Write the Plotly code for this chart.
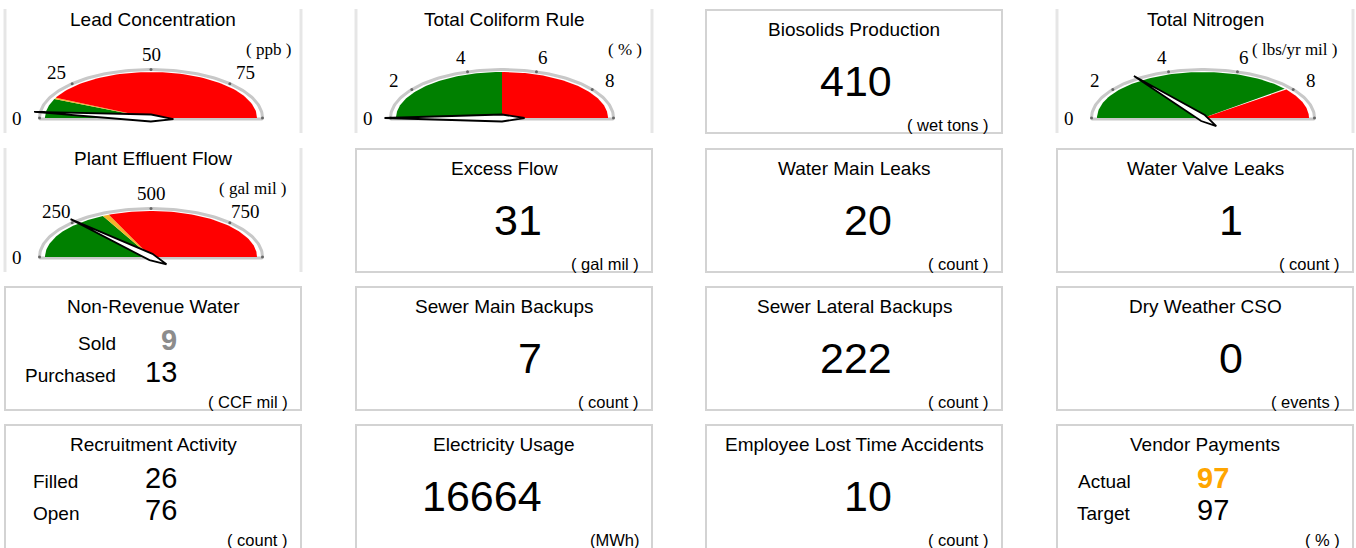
import math

import numpy as np
import plotly.graph_objects as go

# gauge panels
gauge_titles = ["Lead Concentration", "Total Coliform Rule", "Total Nitrogen", "Plant Effluent Flow"]
gauge_units = ["( ppb )", "( % )", "( lbs/yr mil )", "( gal mil )"]
gauge_max = [100, 10, 10, 1000]
gauge_ticks = [[0, 25, 50, 75], [0, 2, 4, 6, 8], [0, 2, 4, 6, 8], [0, 250, 500, 750]]
gauge_green_end = [13.5, 5, 7.8, 350]
gauge_yellow_end = [14.5, 5, 7.85, 370]
gauge_values = [3.7, 0, 3.0, 260]
gauge_cells = [(0, 0), (0, 1), (0, 3), (1, 0)]

# single number panels
kpi_titles = [
    "Biosolids Production", "Excess Flow", "Water Main Leaks", "Water Valve Leaks",
    "Sewer Main Backups", "Sewer Lateral Backups", "Dry Weather CSO",
    "Electricity Usage", "Employee Lost Time Accidents",
]
kpi_values = [410, 31, 20, 1, 7, 222, 0, 16664, 10]
kpi_units = [
    "( wet tons )", "( gal mil )", "( count )", "( count )",
    "( count )", "( count )", "( events )", "(MWh)", "( count )",
]
kpi_cells = [(0, 2), (1, 1), (1, 2), (1, 3), (2, 1), (2, 2), (2, 3), (3, 1), (3, 2)]

# two number panels
pair_titles = ["Non-Revenue Water", "Recruitment Activity", "Vendor Payments"]
pair_labels = [["Sold", "Purchased"], ["Filled", "Open"], ["Actual", "Target"]]
pair_values = [[9, 13], [26, 76], [97, 97]]
pair_units = ["( CCF mil )", "( count )", "( % )"]
pair_cells = [(2, 0), (3, 0), (3, 3)]

# layout (pixels)
W, H = 1356, 548
col_left = [5, 356, 706, 1057]
row_top = [10, 149, 287, 425]
PW, PH = 296, 123

SANS = "Liberation Sans, Arial, sans-serif"
SERIF = "Liberation Serif, Times New Roman, serif"
GREEN, YELLOW, RED = "#008000", "#F5B22A", "#FF0000"
BOX_LINE = "#D3D3D3"
SIDE_LINE = "#E6E6E6"

# first value styles of the pair panels
pair_first_colour = ["#8C8C8C", "black", "#FFA500"]
pair_first_bold = [True, False, True]
pair_label_align = ["right", "left", "center"]
pair_label_x = [112, 27, 47]
# gauge unit right edge offset from the panel right border
gauge_unit_dx = [9, 9, 15, 13]

fig = go.Figure()
annotations = []
shapes = []


def add_text(x, y, text, size, colour="black", xanchor="center", family=SANS):
    annotations.append(
        dict(
            x=x, y=y, xref="x", yref="y", text=text, showarrow=False,
            xanchor=xanchor, yanchor="middle", borderpad=0,
            font=dict(family=family, size=size, color=colour),
        )
    )


def ell(cx, cy, rx, ry, t):
    return cx + rx * np.cos(t), cy - ry * np.sin(t)


def val_angle(v, vmax):
    return math.pi * (1 - v / vmax)


# gauges
#########
RX_F, RY_F = 106, 46      # coloured fill
RX_A, RY_A = 111.5, 48.5  # grey rim
RX_L, RY_L = 134, 64      # tick labels

for i, title in enumerate(gauge_titles):
    r, c = gauge_cells[i]
    left, top = col_left[c], row_top[r]
    cx, cy = left + 146, top + 108
    vmax = gauge_max[i]

    # side lines of the panel
    for xl in (left, left + PW):
        shapes.append(dict(type="line", x0=xl, x1=xl, y0=top - 1, y1=top + PH,
                           xref="x", yref="y", line=dict(color=SIDE_LINE, width=3)))

    # grey rim and base
    t = np.linspace(0, math.pi, 120)
    x, y = ell(cx, cy, RX_A, RY_A, t)
    fig.add_trace(go.Scatter(x=x, y=y, mode="lines", line=dict(color="#C8C8C8", width=3),
                             hoverinfo="skip"))
    fig.add_trace(go.Scatter(x=[cx - RX_A, cx + RX_A], y=[cy + 1, cy + 1], mode="lines",
                             line=dict(color="#C8C8C8", width=3), hoverinfo="skip"))

    # coloured bands
    bands = [(0, gauge_green_end[i], GREEN),
             (gauge_green_end[i], gauge_yellow_end[i], YELLOW),
             (gauge_yellow_end[i], vmax, RED)]
    for v0, v1, col in bands:
        if v1 <= v0:
            continue
        t = np.linspace(val_angle(v0, vmax), val_angle(v1, vmax), 80)
        x, y = ell(cx, cy, RX_F, RY_F, t)
        fig.add_trace(go.Scatter(x=np.r_[cx, x, cx], y=np.r_[cy, y, cy], mode="lines",
                                 fill="toself", fillcolor=col, line=dict(width=0),
                                 hoverinfo="skip"))

    # tick dots and labels
    tick_all = gauge_ticks[i] + [vmax]
    ta = np.array([val_angle(v, vmax) for v in tick_all])
    x, y = ell(cx, cy, RX_A, RY_A, ta)
    fig.add_trace(go.Scatter(x=x, y=y, mode="markers", marker=dict(size=3, color="#666666"),
                             hoverinfo="skip"))
    for v in gauge_ticks[i]:
        lx, ly = ell(cx, cy, RX_L, RY_L, val_angle(v, vmax))
        add_text(lx, ly, str(v), 19, family=SERIF)

    # unit
    add_text(left + PW - gauge_unit_dx[i], cy - 69, gauge_units[i], 17, xanchor="right", family=SERIF)

    # needle
    th = val_angle(gauge_values[i], vmax)
    tip = np.array(ell(cx, cy, 113 * 1.04, 50 * 1.04, th))
    tail = np.array(ell(cx, cy, -113 * 0.2, -50 * 0.2, th))
    d = (tip - tail) / np.linalg.norm(tip - tail)
    n = np.array([-d[1], d[0]]) * 3.5
    ctr = np.array([cx, cy])
    pts = [tip, ctr + n, tail, ctr - n, tip]
    fig.add_trace(go.Scatter(x=[p[0] for p in pts], y=[p[1] for p in pts], mode="lines",
                             fill="toself", fillcolor="white",
                             line=dict(color="black", width=1.8), hoverinfo="skip"))

    add_text(left + PW / 2, top + 9, title, 19)


def add_box(left, top):
    # the bottom row runs past the lower edge of the page
    bottom = top + PH if top + PH < H else H + 4
    shapes.append(dict(type="rect", x0=left, x1=left + PW, y0=top, y1=bottom,
                       xref="x", yref="y", line=dict(color=BOX_LINE, width=2),
                       fillcolor="rgba(0,0,0,0)"))


# single value panels
#####################
for i, title in enumerate(kpi_titles):
    r, c = kpi_cells[i]
    left, top = col_left[c], row_top[r]
    add_box(left, top)
    add_text(left + PW / 2, top + 19, title, 19)
    add_text(left + 187, top + 71, str(kpi_values[i]), 43, xanchor="right")
    add_text(left + PW - 12, top + 115, kpi_units[i], 16.5, xanchor="right")

# two value panels
##################
for i, title in enumerate(pair_titles):
    r, c = pair_cells[i]
    left, top = col_left[c], row_top[r]
    add_box(left, top)
    add_text(left + PW / 2, top + 19, title, 19)
    for j in range(2):
        yy = top + 55 + 32 * j
        add_text(left + pair_label_x[i], yy + 1, pair_labels[i][j], 19,
                 xanchor=pair_label_align[i])
        txt = str(pair_values[i][j])
        col = "black"
        if j == 0:
            col = pair_first_colour[i]
            if pair_first_bold[i]:
                txt = "<b>" + txt + "</b>"
        add_text(left + 173, yy - 2, txt, 29, colour=col, xanchor="right")
    add_text(left + PW - 12, top + 115, pair_units[i], 16.5, xanchor="right")

fig.update_layout(
    width=W,
    height=H,
    margin=dict(l=0, r=0, t=0, b=0),
    paper_bgcolor="white",
    plot_bgcolor="white",
    showlegend=False,
    xaxis=dict(range=[0, W], visible=False, fixedrange=True),
    yaxis=dict(range=[H, 0], visible=False, fixedrange=True),
    annotations=annotations,
    shapes=shapes,
)

# the page body has a default margin, drop it so the figure sits at the window corner
fig.write_html(
    "out.html",
    config={"displayModeBar": False},
    post_script="document.body.style.margin='0';document.body.style.overflow='hidden';",
)
